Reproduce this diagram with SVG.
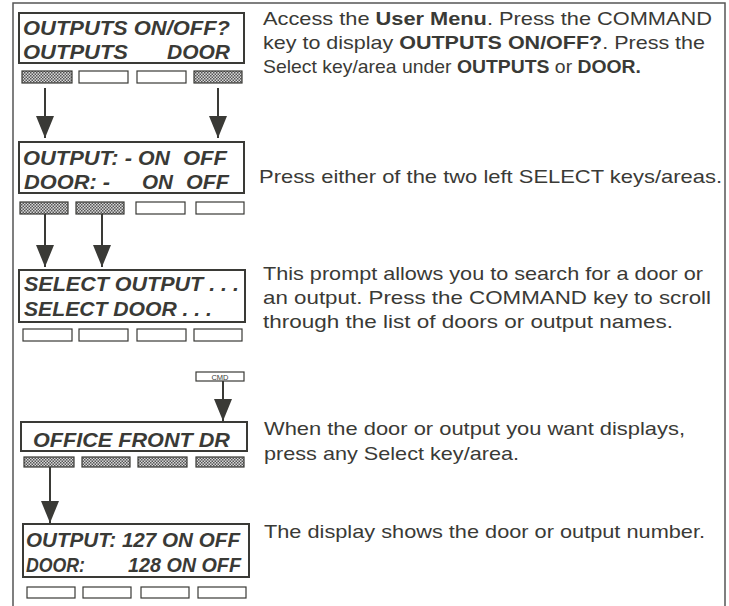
<svg xmlns="http://www.w3.org/2000/svg" width="729" height="606" viewBox="0 0 729 606">
<defs>
<pattern id="dots" width="3" height="3" patternUnits="userSpaceOnUse">
<rect width="3" height="3" fill="#d8d8d8"/>
<rect width="1.5" height="1.5" fill="#555"/>
<rect x="1.5" y="1.5" width="1.5" height="1.5" fill="#555"/>
</pattern>
<marker id="ah" markerWidth="22" markerHeight="18" refX="22" refY="9" orient="auto" markerUnits="userSpaceOnUse" viewBox="0 0 22 18">
<path d="M0,0 L22,9 L0,18 Z" fill="#3a3a36"/>
</marker>
<style>
.frame{fill:none;stroke:#555;stroke-width:1.5}
.disp{fill:#fff;stroke:#3a3a36;stroke-width:2}
.key{fill:#fff;stroke:#3a3a36;stroke-width:1.2}
.skey{fill:url(#dots);stroke:#3a3a36;stroke-width:1.2}
.lcd{font-family:"Liberation Sans",Arial,sans-serif;font-weight:bold;font-style:italic;font-size:20px;fill:#3a3a36}
.desc{font-family:"Liberation Sans",Arial,sans-serif;font-size:19px;fill:#3a3a36}
.b{font-weight:bold}
.conn line{stroke:#3a3a36;stroke-width:2;marker-end:url(#ah)}
</style>
</defs>
<rect width="729" height="606" fill="#fff"/>
<path class="frame" d="M13,606 L13,3 L725,3 L725,606"/>

<g id="step1">
<rect class="disp" x="19" y="13" width="225" height="50"/>
<text class="lcd" x="23" y="35" textLength="207" lengthAdjust="spacingAndGlyphs">OUTPUTS ON/OFF?</text>
<text class="lcd" x="23" y="59" textLength="105" lengthAdjust="spacingAndGlyphs">OUTPUTS</text>
<text class="lcd" x="167" y="59" textLength="63" lengthAdjust="spacingAndGlyphs">DOOR</text>
<rect class="skey" x="22" y="71" width="50" height="12"/>
<rect class="key" x="79" y="71" width="49" height="12"/>
<rect class="key" x="137" y="71" width="49" height="12"/>
<rect class="skey" x="194" y="71" width="48" height="12"/>
<text class="desc" x="263" y="25" textLength="449" lengthAdjust="spacingAndGlyphs">Access the <tspan class="b">User Menu</tspan>. Press the COMMAND</text>
<text class="desc" x="263" y="49" textLength="442" lengthAdjust="spacingAndGlyphs">key to display <tspan class="b">OUTPUTS ON/OFF?</tspan>. Press the</text>
<text class="desc" x="263" y="73" textLength="378" lengthAdjust="spacingAndGlyphs">Select key/area under <tspan class="b">OUTPUTS</tspan> or <tspan class="b">DOOR.</tspan></text>
</g>

<g id="step2">
<rect class="disp" x="19" y="142" width="225" height="51"/>
<text class="lcd" x="23" y="165" textLength="109" lengthAdjust="spacingAndGlyphs">OUTPUT: -</text>
<text class="lcd" x="138" y="165" textLength="32" lengthAdjust="spacingAndGlyphs">ON</text>
<text class="lcd" x="183" y="165" textLength="44" lengthAdjust="spacingAndGlyphs">OFF</text>
<text class="lcd" x="24" y="189" textLength="86" lengthAdjust="spacingAndGlyphs">DOOR: -</text>
<text class="lcd" x="142" y="189" textLength="31" lengthAdjust="spacingAndGlyphs">ON</text>
<text class="lcd" x="186" y="189" textLength="43" lengthAdjust="spacingAndGlyphs">OFF</text>
<rect class="skey" x="20" y="202" width="48" height="12"/>
<rect class="skey" x="76" y="202" width="48" height="12"/>
<rect class="key" x="136" y="202" width="49" height="12"/>
<rect class="key" x="196" y="202" width="48" height="12"/>
<text class="desc" x="259" y="183" textLength="463" lengthAdjust="spacingAndGlyphs">Press either of the two left SELECT keys/areas.</text>
</g>

<g id="step3">
<rect class="disp" x="19" y="270" width="226" height="52"/>
<text class="lcd" x="24" y="291" textLength="215" lengthAdjust="spacingAndGlyphs">SELECT OUTPUT . . .</text>
<text class="lcd" x="24" y="316" textLength="188" lengthAdjust="spacingAndGlyphs">SELECT DOOR . . .</text>
<rect class="key" x="23" y="329" width="49" height="12"/>
<rect class="key" x="79" y="329" width="49" height="12"/>
<rect class="key" x="137" y="329" width="49" height="12"/>
<rect class="key" x="194" y="329" width="48" height="12"/>
<text class="desc" x="263" y="280" textLength="440" lengthAdjust="spacingAndGlyphs">This prompt allows you to search for a door or</text>
<text class="desc" x="263" y="304" textLength="448" lengthAdjust="spacingAndGlyphs">an output. Press the COMMAND key to scroll</text>
<text class="desc" x="263" y="328" textLength="410" lengthAdjust="spacingAndGlyphs">through the list of doors or output names.</text>
</g>

<g id="cmd">
<rect class="key" x="196" y="372" width="48" height="9" stroke-width="1"/>
<text x="220" y="379.5" text-anchor="middle" font-family="'Liberation Sans',Arial,sans-serif" font-size="7.5" fill="#3a3a36">CMD</text>
</g>

<g id="step4">
<rect class="disp" x="21" y="422" width="226" height="29"/>
<text class="lcd" x="33" y="447" textLength="197" lengthAdjust="spacingAndGlyphs">OFFICE FRONT DR</text>
<rect class="skey" x="24" y="457" width="50" height="10"/>
<rect class="skey" x="82" y="457" width="48" height="10"/>
<rect class="skey" x="138" y="457" width="49" height="10"/>
<rect class="skey" x="196" y="457" width="48" height="10"/>
<text class="desc" x="264" y="435" textLength="421" lengthAdjust="spacingAndGlyphs">When the door or output you want displays,</text>
<text class="desc" x="264" y="460" textLength="255" lengthAdjust="spacingAndGlyphs">press any Select key/area.</text>
</g>

<g id="step5">
<rect class="disp" x="23" y="524" width="226" height="53"/>
<text class="lcd" x="26" y="547" textLength="214" lengthAdjust="spacingAndGlyphs">OUTPUT: 127 ON OFF</text>
<text class="lcd" x="26" y="572" textLength="59" lengthAdjust="spacingAndGlyphs">DOOR:</text>
<text class="lcd" x="128" y="572" textLength="113" lengthAdjust="spacingAndGlyphs">128 ON OFF</text>
<rect class="key" x="27" y="587" width="48" height="11"/>
<rect class="key" x="83" y="587" width="48" height="11"/>
<rect class="key" x="141" y="587" width="48" height="11"/>
<rect class="key" x="198" y="587" width="48" height="11"/>
<text class="desc" x="264" y="538" textLength="441" lengthAdjust="spacingAndGlyphs">The display shows the door or output number.</text>
</g>

<g id="connectors" class="conn">
<line x1="45" y1="88" x2="45" y2="138"/>
<line x1="218" y1="88" x2="218" y2="138"/>
<line x1="45" y1="214" x2="45" y2="267"/>
<line x1="102" y1="214" x2="102" y2="267"/>
<line x1="223" y1="381" x2="223" y2="421"/>
<line x1="50" y1="467" x2="50" y2="523"/>
</g>
</svg>
